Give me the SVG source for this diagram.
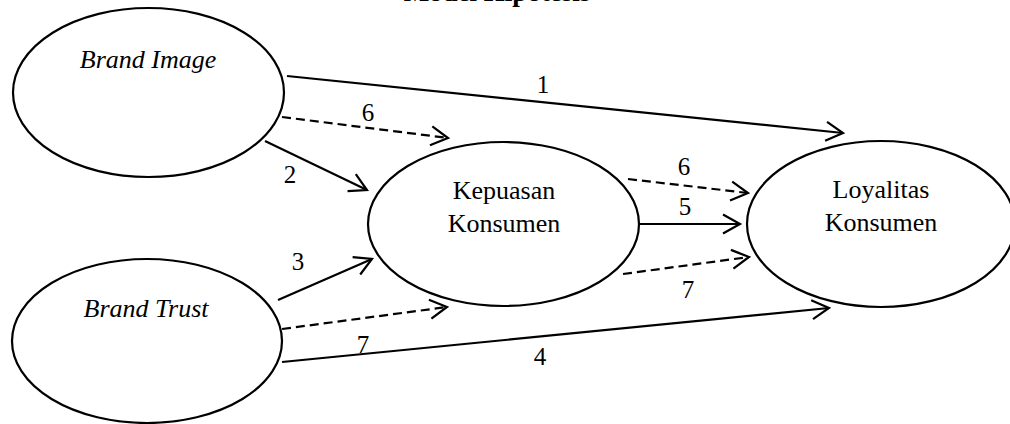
<svg xmlns="http://www.w3.org/2000/svg" width="1010" height="424" viewBox="0 0 1010 424">
<style>
.node{fill:#fff;stroke:#000;stroke-width:2.2}
.lbl{font-family:"Liberation Serif","Times New Roman",serif;font-size:26px;fill:#000;text-anchor:middle}
.it{font-style:italic}
.num{font-family:"Liberation Serif","Times New Roman",serif;font-size:25px;fill:#000;text-anchor:middle}
.c{stroke:#000;stroke-width:2.2;fill:none}
.d{stroke-dasharray:9 5}
.title{font-family:"Liberation Serif","Times New Roman",serif;font-size:27px;font-weight:bold;text-anchor:middle;fill:#000}
</style>
<defs>
<marker id="arr" viewBox="-20 -12 24 24" refX="0" refY="0" markerWidth="24" markerHeight="24" markerUnits="userSpaceOnUse" orient="auto">
<path d="M-17,-9.5 L0,0 L-17,9.5" fill="none" stroke="#000" stroke-width="2.2"/>
</marker>
</defs>
<rect width="1010" height="424" fill="#fff"/>
<text class="title" x="497" y="1">Model Hipotesis</text>
<g id="brand-image">
<ellipse class="node" cx="148.5" cy="92.5" rx="135.5" ry="84.5"/>
<text class="lbl it" x="148" y="68">Brand Image</text>
</g>
<g id="brand-trust">
<ellipse class="node" cx="147" cy="341" rx="135" ry="82"/>
<text class="lbl it" x="146" y="317">Brand Trust</text>
</g>
<g id="kepuasan">
<ellipse class="node" cx="503.5" cy="224" rx="135.5" ry="82"/>
<text class="lbl" x="504" y="199">Kepuasan</text>
<text class="lbl" x="504" y="232">Konsumen</text>
</g>
<g id="loyalitas">
<ellipse class="node" cx="881" cy="224" rx="134" ry="83"/>
<text class="lbl" x="881" y="198">Loyalitas</text>
<text class="lbl" x="881" y="231">Konsumen</text>
</g>
<g id="connectors">
<line class="c" x1="287" y1="76" x2="843" y2="133" marker-end="url(#arr)"/>
<line class="c d" x1="282" y1="117" x2="448" y2="138" marker-end="url(#arr)"/>
<line class="c" x1="265" y1="141" x2="367" y2="190" marker-end="url(#arr)"/>
<line class="c" x1="278" y1="300" x2="372" y2="259" marker-end="url(#arr)"/>
<line class="c d" x1="282" y1="329" x2="447" y2="307" marker-end="url(#arr)"/>
<line class="c" x1="282" y1="362" x2="829" y2="308" marker-end="url(#arr)"/>
<line class="c d" x1="628" y1="179" x2="748" y2="193" marker-end="url(#arr)"/>
<line class="c" x1="639" y1="224" x2="740" y2="224" marker-end="url(#arr)"/>
<line class="c d" x1="623" y1="274" x2="749" y2="257" marker-end="url(#arr)"/>
<text class="num" x="543" y="93">1</text>
<text class="num" x="368" y="121">6</text>
<text class="num" x="290" y="183">2</text>
<text class="num" x="298" y="270">3</text>
<text class="num" x="363" y="353">7</text>
<text class="num" x="540" y="365">4</text>
<text class="num" x="684" y="175">6</text>
<text class="num" x="685" y="215">5</text>
<text class="num" x="688" y="298">7</text>
</g>
</svg>
